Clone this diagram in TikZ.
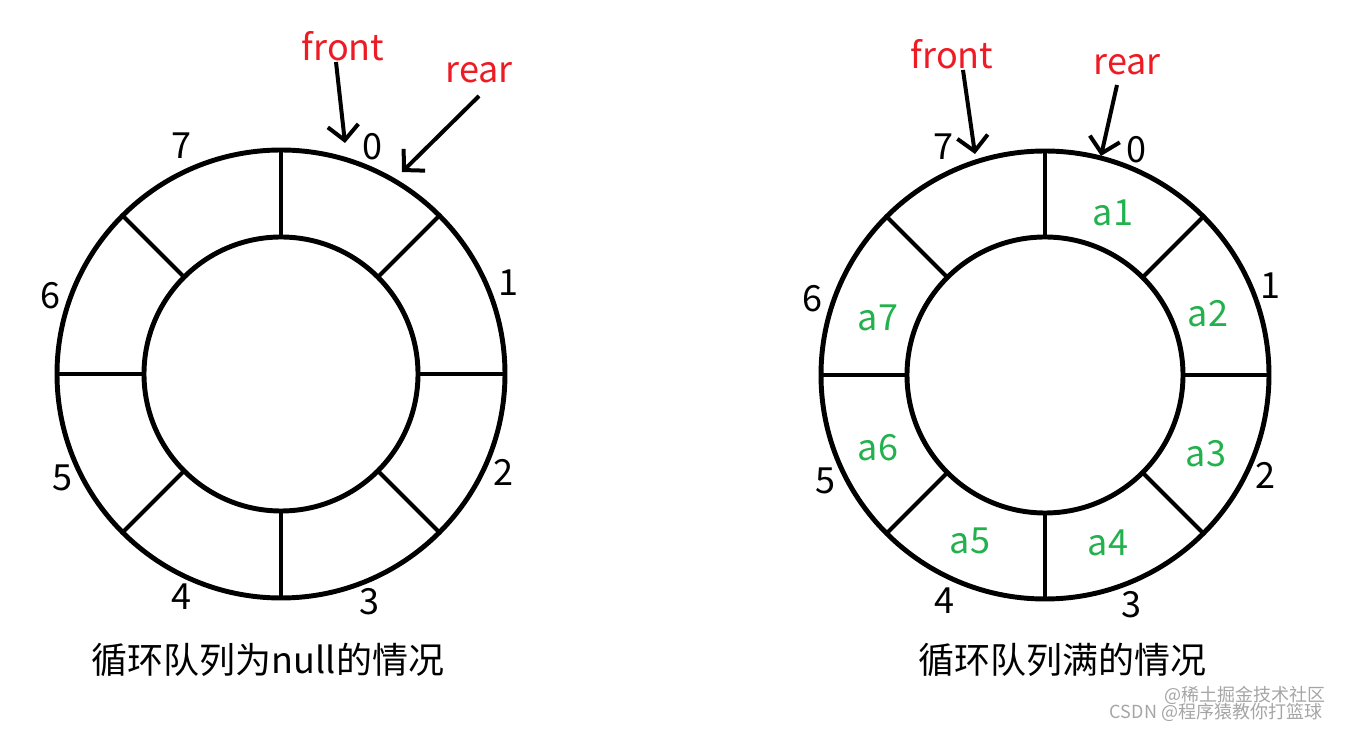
\documentclass[tikz,border=0pt]{standalone}
\usepackage{fontspec}
\setmainfont{Noto Sans CJK SC}
\usetikzlibrary{arrows.meta}
\definecolor{qred}{RGB}{237,28,36}
\definecolor{qgreen}{RGB}{34,177,76}
\definecolor{wmgray}{RGB}{165,165,165}
\begin{document}
\begin{tikzpicture}[x=0.75pt,y=-0.75pt,
  ring/.style={line width=3.7pt},
  spoke/.style={line width=3.1pt},
  ptr/.style={line width=3pt,-{Straight Barb[length=11pt,width=23pt,line width=3pt]}},
  idx/.style={font=\fontsize{27}{32}\selectfont,inner sep=0pt},
  ptrlabel/.style={font=\fontsize{27}{32}\selectfont,text=qred,inner sep=0pt},
  elem/.style={font=\fontsize{27}{32}\selectfont,text=qgreen,inner sep=0pt},
  caption/.style={font=\fontsize{27}{32}\selectfont,inner sep=0pt},
  wm/.style={font=\fontsize{13.5}{16}\selectfont,text=wmgray,inner sep=0pt}]
\useasboundingbox (0,0) rectangle (1347,730);
% ---------- left ring ----------
\coordinate (cL) at (281,374);
\draw[ring] (cL) circle[radius=168pt];
\draw[ring] (cL) circle[radius=102.75pt];
\foreach \a in {0,45,...,315}
  \draw[spoke] ([shift={(\a:102.75pt)}]cL) -- ([shift={(\a:168pt)}]cL);
\node[idx] (L0) at (372,147) {0};
\node[idx] (L1) at (508,283) {1};
\node[idx] (L2) at (503,472) {2};
\node[idx] (L3) at (369,602) {3};
\node[idx] (L4) at (181,597) {4};
\node[idx] (L5) at (62,478) {5};
\node[idx] (L6) at (50,296) {6};
\node[idx] (L7) at (181,146) {7};
\node[ptrlabel] (frontL) at (343,46) {front};
\node[ptrlabel] (rearL) at (479,73) {rear};
\coordinate (fLs) at (336,62);
\coordinate (fLt) at (345,143);
\coordinate (rLs) at (479,96);
\coordinate (rLt) at (402,172);
\draw[ptr] (fLs) -- (fLt);
\draw[ptr] (rLs) -- (rLt);
\node[caption] (capL) at (268,660) {循环队列为null的情况};
% ---------- right ring ----------
\coordinate (cR) at (1045,375);
\draw[ring] (cR) circle[radius=168pt];
\draw[ring] (cR) circle[radius=103.5pt];
\foreach \a in {0,45,...,315}
  \draw[spoke] ([shift={(\a:103.5pt)}]cR) -- ([shift={(\a:168pt)}]cR);
\node[idx] (R0) at (1136,150) {0};
\node[idx] (R1) at (1270,286) {1};
\node[idx] (R2) at (1265,475) {2};
\node[idx] (R3) at (1131,605) {3};
\node[idx] (R4) at (944,601) {4};
\node[idx] (R5) at (825,481) {5};
\node[idx] (R6) at (812,299) {6};
\node[idx] (R7) at (943,147) {7};
\node[elem] (a1) at (1113,213) {a1};
\node[elem] (a2) at (1208,314) {a2};
\node[elem] (a3) at (1206,454) {a3};
\node[elem] (a4) at (1108,543) {a4};
\node[elem] (a5) at (970,541) {a5};
\node[elem] (a6) at (878,448) {a6};
\node[elem] (a7) at (878,318) {a7};
\node[ptrlabel] (frontR) at (952,54) {front};
\node[ptrlabel] (rearR) at (1127,65) {rear};
\coordinate (fRs) at (963,70);
\coordinate (fRt) at (975,154);
\coordinate (rRs) at (1117,85);
\coordinate (rRt) at (1101,156);
\draw[ptr] (fRs) -- (fRt);
\draw[ptr] (rRs) -- (rRt);
\node[caption] (capR) at (1062,660) {循环队列满的情况};
% ---------- watermark ----------
\node[wm] (wm1) at (1245,695) {@稀土掘金技术社区};
\node[wm] (wm2) at (1216,712) {CSDN @程序猿教你打篮球};
\end{tikzpicture}
\end{document}
